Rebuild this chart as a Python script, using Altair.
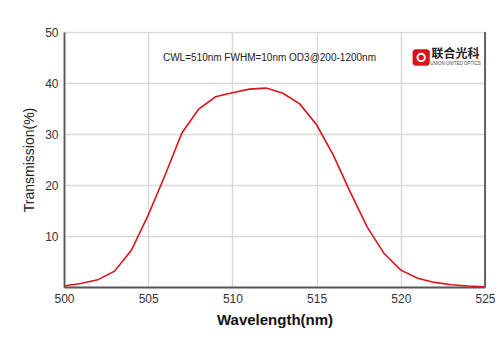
import altair as alt
import pandas as pd

wavelength = list(range(500, 526))
transmission = [0.2, 0.7, 1.4, 3.1, 7.2, 14.1, 21.9, 30.2, 34.9, 37.3, 38.1, 38.8, 39.0,
                38.0, 35.9, 31.8, 25.8, 18.6, 11.8, 6.6, 3.3, 1.7, 0.9, 0.45, 0.2, 0.06]
x_ticks = [500, 505, 510, 515, 520, 525]
y_ticks = [10, 20, 30, 40, 50]
note = "CWL=510nm FWHM=10nm OD3@200-1200nm"

df = pd.DataFrame({"wl": wavelength, "t": transmission})

xs = alt.Scale(domain=[500, 525], nice=False)
ys = alt.Scale(domain=[0, 50], nice=False)

line = alt.Chart(df).mark_line(color="#d9141b", strokeWidth=1.6).encode(
    x=alt.X("wl:Q", scale=xs, title="Wavelength(nm)",
            axis=alt.Axis(values=x_ticks, grid=True, gridColor="#d9d9d9", gridWidth=1.5,
                          ticks=False, labelPadding=6, labelFontSize=12, labelColor="#333",
                          labelFont="Liberation Sans", domain=True, domainColor="#555",
                          domainWidth=1.8,
                          titleFont="Liberation Sans", titleFontSize=15, titleFontWeight="bold",
                          titleColor="#111", titlePadding=8, labelFlush=False)),
    y=alt.Y("t:Q", scale=ys, title="Transmission(%)",
            axis=alt.Axis(values=y_ticks, grid=True, gridColor="#d9d9d9", gridWidth=1.5,
                          ticks=False, labelPadding=6, labelFontSize=12, labelColor="#333",
                          labelFont="Liberation Sans", domain=True, domainColor="#555",
                          domainWidth=1.8,
                          titleFont="Liberation Sans", titleFontSize=14, titleFontWeight="normal",
                          titleColor="#222", titlePadding=8)),
)

right_edge = alt.Chart(pd.DataFrame({"x": [525], "y": [0], "y2": [50]})).mark_rule(
    color="#555", strokeWidth=1.8
).encode(x=alt.X("x:Q", scale=xs), y=alt.Y("y:Q", scale=ys), y2="y2")

ann = alt.Chart(pd.DataFrame({"x": [512.2], "y": [44.9], "txt": [note]})).mark_text(
    fontSize=10, font="Liberation Sans", color="#222"
).encode(x=alt.X("x:Q", scale=xs), y=alt.Y("y:Q", scale=ys), text="txt:N")

logo_box = alt.Chart(pd.DataFrame({"x": [520.7], "x2": [521.72], "y": [46.6], "y2": [43.4]})).mark_rect(
    color="#d7141a", cornerRadius=3
).encode(x=alt.X("x:Q", scale=xs), x2="x2", y=alt.Y("y:Q", scale=ys), y2="y2")

logo_ring = alt.Chart(pd.DataFrame({"x": [521.21], "y": [45.0]})).mark_point(
    shape="circle", filled=False, stroke="white", strokeWidth=2, size=55, opacity=1
).encode(x=alt.X("x:Q", scale=xs), y=alt.Y("y:Q", scale=ys))

logo_txt = alt.Chart(pd.DataFrame({"x": [523.25], "y": [45.6], "txt": ["联合光科"]})).mark_text(
    fontSize=12, font="Noto Sans CJK SC", fontWeight="bold", color="#222"
).encode(x=alt.X("x:Q", scale=xs), y=alt.Y("y:Q", scale=ys), text="txt:N")

logo_sub = alt.Chart(pd.DataFrame({"x": [523.25], "y": [43.7], "txt": ["UNION UNITED OPTICS"]})).mark_text(
    fontSize=4.5, font="Liberation Sans", color="#444"
).encode(x=alt.X("x:Q", scale=xs), y=alt.Y("y:Q", scale=ys), text="txt:N")

chart = alt.layer(line, right_edge, ann, logo_box, logo_ring, logo_txt, logo_sub).properties(
    width=421, height=255,
    autosize=alt.AutoSizeParams(type="none"),
    padding={"left": 64, "top": 32, "right": 15, "bottom": 66},
).configure_view(stroke=None).configure(background="white")

chart.save("out.html", embed_options={"renderer": "svg", "actions": False})
